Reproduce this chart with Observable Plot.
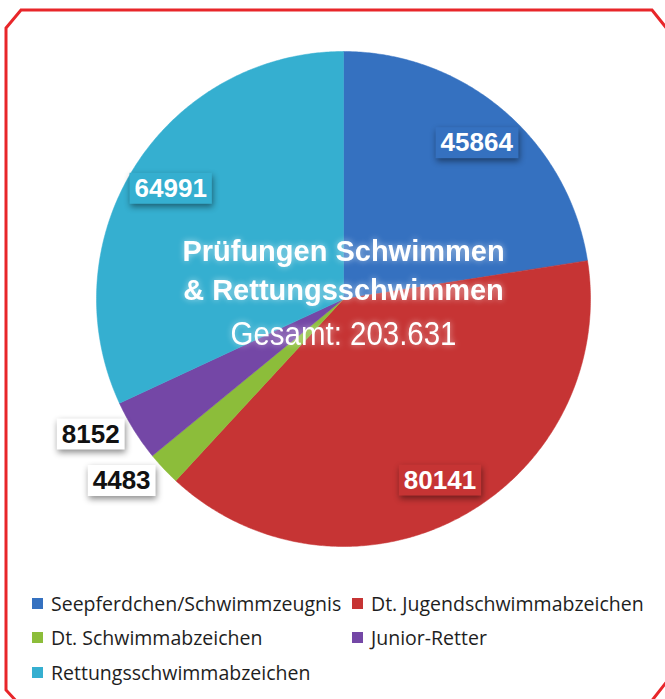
<!DOCTYPE html>
<html>
<head>
<meta charset="utf-8">
<script src="https://cdn.jsdelivr.net/npm/d3@7"></script>
<script src="https://cdn.jsdelivr.net/npm/@observablehq/plot@0.6"></script>
<style>
  body { margin: 0; background: #fff; }
  #wrap { position: relative; width: 665px; height: 699px; overflow: hidden; background: #fff; }
  #chart { position: absolute; left: 0; top: 0; }
  #border { position: absolute; left: 0; top: 0; pointer-events: none; }
  #legend { position: absolute; left: 32px; top: 586px; display: grid; grid-template-columns: 320px auto; }
  .item { display: flex; align-items: center; height: 34.5px; font-family: "Open Sans", "DejaVu Sans", sans-serif; font-size: 19.5px; color: #1e1e1e; white-space: nowrap; }
  .sw { width: 11px; height: 11px; margin-right: 8px; flex: none; }
  .title-glow text { filter: drop-shadow(0 0 3px rgba(255,255,255,0.55)); }
</style>
</head>
<body>
<div id="wrap">
  <div id="chart"></div>
  <div id="legend"></div>
  <svg id="border" width="665" height="699">
    <polygon points="6,28 21,10 652,10 668,30 668,680 650,703 18,703 6,690" fill="none" stroke="#e8262a" stroke-width="3"/>
  </svg>
</div>
<script>
const categories = ["Seepferdchen/Schwimmzeugnis", "Dt. Jugendschwimmabzeichen", "Dt. Schwimmabzeichen", "Junior-Retter", "Rettungsschwimmabzeichen"];
const values = [45864, 80141, 4483, 8152, 64991];
const colors = ["#3571c0", "#c63434", "#8cbd3a", "#7447a6", "#35afd0"];
const titleLines = ["Prüfungen Schwimmen", "& Rettungsschwimmen"];
const totalLabel = "Gesamt: 203.631";

const total = d3.sum(values);
let acc = 0;
const slices = categories.map((c, i) => {
  const a0 = acc / total * 2 * Math.PI;
  acc += values[i];
  const a1 = acc / total * 2 * Math.PI;
  return { cat: c, value: values[i], a0, a1, mid: (a0 + a1) / 2, share: values[i] / total, color: colors[i] };
});

// slice outlines in unit-circle data space (angle measured clockwise from 12 o'clock)
const outline = slices.flatMap(s => {
  const n = Math.max(2, Math.ceil((s.a1 - s.a0) / (Math.PI / 360)));
  const pts = [{ cat: s.cat, x: 0, y: 0 }];
  for (let k = 0; k <= n; k++) {
    const a = s.a0 + (s.a1 - s.a0) * k / n;
    pts.push({ cat: s.cat, x: Math.sin(a), y: Math.cos(a) });
  }
  pts.push({ cat: s.cat, x: 0, y: 0 });
  return pts;
});

const labels = slices.map(s => {
  const inside = s.share > 0.05;
  const r = inside ? 0.83 : 1.16;
  const a = inside ? s.mid : s.mid + 0.07;
  return { ...s, inside, lx: r * Math.sin(a), ly: r * Math.cos(a) };
});
const inLabels = labels.filter(d => d.inside);
const outLabels = labels.filter(d => !d.inside);

const numFont = "'Liberation Sans', Arial, Helvetica, sans-serif";

const chart = Plot.plot({
  width: 665,
  height: 580,
  marginLeft: 96,
  marginRight: 75,
  marginTop: 51,
  marginBottom: 34,
  x: { domain: [-1, 1], axis: null },
  y: { domain: [-1, 1], axis: null },
  color: { domain: categories, range: colors },
  style: { background: "transparent", overflow: "visible" },
  marks: [
    Plot.line(outline, { x: "x", y: "y", z: "cat", fill: "cat", stroke: "cat", strokeWidth: 0.5, curve: "linear" }),
    Plot.text(titleLines.slice(0, 1), { frameAnchor: "middle", dy: -47, fill: "white", fontSize: 29, fontWeight: "bold", fontFamily: numFont, className: "title-glow" }),
    Plot.text(titleLines.slice(1, 2), { frameAnchor: "middle", dy: -8, fill: "white", fontSize: 29, fontWeight: "bold", fontFamily: numFont, className: "title-glow" }),
    Plot.text([totalLabel], { frameAnchor: "middle", dy: 35, fill: "white", fontSize: 33, fontFamily: numFont, className: "title-glow total-text" }),
    Plot.text(inLabels, { x: "lx", y: "ly", text: d => String(d.value), fill: "white", fontSize: 26, fontWeight: "bold", fontFamily: numFont, className: "lab-in" }),
    Plot.text(outLabels, { x: "lx", y: "ly", text: d => String(d.value), fill: "#111", fontSize: 26, fontWeight: "bold", fontFamily: numFont, className: "lab-out" })
  ]
});
document.getElementById("chart").appendChild(chart);

// condensed look for the total line
chart.querySelectorAll("g.total-text text").forEach(t => {
  t.setAttribute("textLength", 226);
  t.setAttribute("lengthAdjust", "spacingAndGlyphs");
});

// boxes with drop shadows behind the value labels
function boxes(cls, data, fillFn) {
  const texts = chart.querySelectorAll(`g.${cls} text`);
  texts.forEach((t, i) => {
    const b = t.getBBox();
    const rect = document.createElementNS("http://www.w3.org/2000/svg", "rect");
    rect.setAttribute("x", b.x - 5);
    rect.setAttribute("y", b.y);
    rect.setAttribute("width", b.width + 10);
    rect.setAttribute("height", b.height + 1);
    const tr = t.getAttribute("transform");
    if (tr) rect.setAttribute("transform", tr);
    rect.setAttribute("fill", fillFn(data[i]));
    rect.setAttribute("style", "filter: drop-shadow(1px 3px 3px rgba(0,0,0,0.45))");
    t.parentNode.insertBefore(rect, t);
  });
}
boxes("lab-in", inLabels, d => d.color);
boxes("lab-out", outLabels, () => "#ffffff");

// legend
const legend = document.getElementById("legend");
categories.forEach((c, i) => {
  const item = document.createElement("div");
  item.className = "item";
  const sw = document.createElement("span");
  sw.className = "sw";
  sw.style.background = colors[i];
  const tx = document.createElement("span");
  tx.textContent = c;
  item.appendChild(sw);
  item.appendChild(tx);
  legend.appendChild(item);
});
</script>
</body>
</html>
